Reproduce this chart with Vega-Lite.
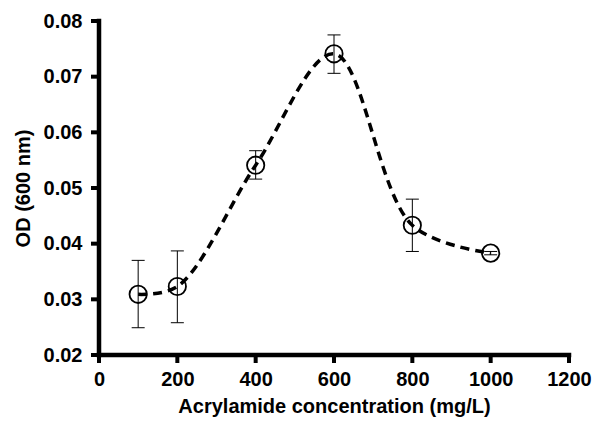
{
  "$schema": "https://vega.github.io/schema/vega-lite/v6.json",
  "width": 470,
  "height": 334,
  "autosize": "none",
  "padding": {"left": 99, "top": 21, "right": 26, "bottom": 66},
  "background": "white",
  "config": {
    "view": {"stroke": null},
    "font": "Liberation Sans",
    "axis": {"grid": false, "domain": false, "ticks": false,
      "labelFont": "Liberation Sans", "labelFontWeight": "bold", "labelFontSize": 20, "labelColor": "black", "labelFlush": false,
      "titleFont": "Liberation Sans", "titleFontWeight": "bold", "titleFontSize": 20, "titleColor": "black"},
    "axisX": {"labelPadding": 14, "titlePadding": 7},
    "axisY": {"labelPadding": 17, "titlePadding": 10}
  },
  "datasets": {
    "pts": [
      {"conc": 100, "od": 0.0309, "lo": 0.0249, "hi": 0.0370},
      {"conc": 200, "od": 0.0323, "lo": 0.0258, "hi": 0.0387},
      {"conc": 400, "od": 0.0541, "lo": 0.0516, "hi": 0.0567},
      {"conc": 600, "od": 0.0741, "lo": 0.0706, "hi": 0.0775},
      {"conc": 800, "od": 0.0433, "lo": 0.0386, "hi": 0.0480},
      {"conc": 1000, "od": 0.0383, "lo": 0.0380, "hi": 0.0386}
    ],
    "xticks": [{"conc": 0, "od": 0.02}, {"conc": 200, "od": 0.02}, {"conc": 400, "od": 0.02}, {"conc": 600, "od": 0.02}, {"conc": 800, "od": 0.02}, {"conc": 1000, "od": 0.02}, {"conc": 1200, "od": 0.02}],
    "yticks": [{"conc": 0, "od": 0.02}, {"conc": 0, "od": 0.03}, {"conc": 0, "od": 0.04}, {"conc": 0, "od": 0.05}, {"conc": 0, "od": 0.06}, {"conc": 0, "od": 0.07}, {"conc": 0, "od": 0.08}],
    "xaxis": [{"conc": 0, "conc2": 1200, "od": 0.02}],
    "yaxis": [{"conc": 0, "od": 0.02, "od2": 0.08}]
  },
  "layer": [
    {"data": {"name": "pts"},
     "mark": {"type": "rule", "color": "black", "strokeWidth": 1},
     "encoding": {
       "x": {"field": "conc", "type": "quantitative",
         "scale": {"domain": [0, 1200], "nice": false},
         "axis": {"title": "Acrylamide concentration (mg/L)", "values": [0, 200, 400, 600, 800, 1000, 1200], "format": "d"}},
       "y": {"field": "lo", "type": "quantitative",
         "scale": {"domain": [0.02, 0.08], "nice": false, "zero": false},
         "axis": {"title": "OD (600 nm)", "values": [0.02, 0.03, 0.04, 0.05, 0.06, 0.07, 0.08], "format": ".2f"}},
       "y2": {"field": "hi"}}},
    {"data": {"name": "pts"},
     "mark": {"type": "tick", "color": "black", "thickness": 1, "size": 13, "orient": "horizontal", "opacity": 1},
     "encoding": {"x": {"field": "conc", "type": "quantitative"}, "y": {"field": "lo", "type": "quantitative"}}},
    {"data": {"name": "pts"},
     "mark": {"type": "tick", "color": "black", "thickness": 1, "size": 13, "orient": "horizontal", "opacity": 1},
     "encoding": {"x": {"field": "conc", "type": "quantitative"}, "y": {"field": "hi", "type": "quantitative"}}},
    {"data": {"name": "pts"},
     "mark": {"type": "line", "color": "black", "strokeWidth": 3.5, "strokeDash": [9, 6], "interpolate": "catmull-rom"},
     "encoding": {"x": {"field": "conc", "type": "quantitative"}, "y": {"field": "od", "type": "quantitative"}}},
    {"data": {"name": "pts"},
     "mark": {"type": "point", "shape": "circle", "filled": false, "color": "black", "opacity": 1, "strokeWidth": 1.8, "size": 300},
     "encoding": {"x": {"field": "conc", "type": "quantitative"}, "y": {"field": "od", "type": "quantitative"}}},
    {"data": {"name": "xaxis"},
     "mark": {"type": "rule", "color": "black", "strokeWidth": 4.5, "strokeCap": "square"},
     "encoding": {"x": {"field": "conc", "type": "quantitative"}, "x2": {"field": "conc2"}, "y": {"field": "od", "type": "quantitative"}}},
    {"data": {"name": "yaxis"},
     "mark": {"type": "rule", "color": "black", "strokeWidth": 4.5, "strokeCap": "square"},
     "encoding": {"x": {"field": "conc", "type": "quantitative"}, "y": {"field": "od", "type": "quantitative"}, "y2": {"field": "od2"}}},
    {"data": {"name": "xticks"},
     "mark": {"type": "tick", "color": "black", "thickness": 4, "size": 8, "orient": "vertical", "yOffset": 4, "opacity": 1},
     "encoding": {"x": {"field": "conc", "type": "quantitative"}, "y": {"field": "od", "type": "quantitative"}}},
    {"data": {"name": "yticks"},
     "mark": {"type": "tick", "color": "black", "thickness": 4, "size": 8, "orient": "horizontal", "xOffset": -4, "opacity": 1},
     "encoding": {"x": {"field": "conc", "type": "quantitative"}, "y": {"field": "od", "type": "quantitative"}}}
  ]
}
